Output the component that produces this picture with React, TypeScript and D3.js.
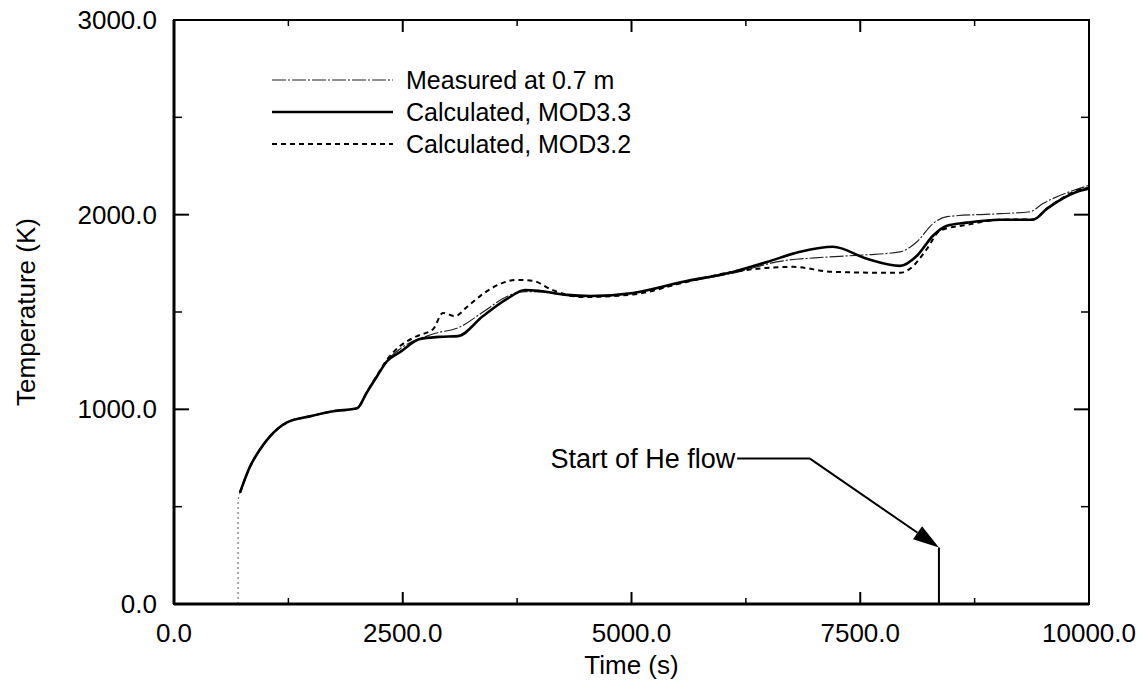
import * as d3 from 'd3';

const W = 1145;
const H = 683;

// measured at 0.7 m
const measuredTime = [700, 700, 721, 831, 940, 1049, 1235, 1486, 1738, 2000, 2109, 2219, 2328, 2470, 2831, 3125, 3377, 3639, 3836, 4000, 4295, 4546, 5016, 5563, 6109, 6656, 7000, 7388, 7574, 7934, 8120, 8295, 8448, 9027, 9355, 9497, 9825, 10000];
const measuredTemp = [0, 536, 572, 706, 794, 861, 933, 964, 990, 1005, 1088, 1172, 1250, 1310, 1387, 1423, 1500, 1580, 1605, 1603, 1585, 1580, 1596, 1652, 1700, 1763, 1778, 1789, 1794, 1809, 1861, 1954, 1990, 2005, 2015, 2057, 2124, 2150];

// calculated, MOD3.3
const mod33Time = [721, 831, 940, 1049, 1235, 1486, 1738, 2000, 2109, 2219, 2328, 2470, 2689, 2900, 3104, 3377, 3639, 3836, 4000, 4295, 4546, 5016, 5563, 6109, 6481, 6842, 7202, 7574, 7934, 8120, 8295, 8448, 8667, 9027, 9388, 9541, 9869, 10000];
const mod33Temp = [572, 706, 794, 861, 933, 964, 990, 1005, 1088, 1170, 1247, 1294, 1361, 1372, 1376, 1479, 1567, 1613, 1608, 1588, 1582, 1598, 1655, 1706, 1757, 1809, 1835, 1773, 1737, 1789, 1892, 1943, 1959, 1974, 1974, 2031, 2118, 2135];

// calculated, MOD3.2
const mod32Time = [721, 831, 940, 1049, 1235, 1486, 1738, 2000, 2109, 2219, 2328, 2470, 2650, 2831, 2940, 3071, 3202, 3377, 3563, 3749, 3923, 4109, 4295, 4470, 5016, 5563, 6109, 6765, 7202, 7934, 8044, 8230, 8372, 8667, 9027, 9388, 9541, 9869, 10000];
const mod32Temp = [572, 706, 794, 861, 933, 964, 990, 1005, 1090, 1175, 1255, 1325, 1375, 1412, 1495, 1479, 1526, 1593, 1644, 1665, 1660, 1619, 1588, 1577, 1590, 1650, 1706, 1732, 1706, 1701, 1722, 1825, 1918, 1948, 1974, 1976, 2031, 2124, 2139];

const xTicks = [0, 2500, 5000, 7500, 10000];
const yTicks = [0, 1000, 2000, 3000];
const xMinor = [1250, 3750, 6250, 8750];
const yMinor = [500, 1500, 2500];

const legendLabels = ['Measured at 0.7 m', 'Calculated, MOD3.3', 'Calculated, MOD3.2'];

// "Start of He flow" annotation, in data units
const heFlowTime = 8360;
const heFlowTip = 290;
const heFlowLabelY = 747;
const heFlowElbow = [6155, 6950];

const font = '"Liberation Sans", Arial, Helvetica, sans-serif';
const fs = 26;

export default function App() {
    const x = d3.scaleLinear().domain([0, 10000]).range([174, 1089]);
    const y = d3.scaleLinear().domain([0, 3000]).range([604, 20]);

    const line = d3
        .line<[number, number]>()
        .x((d) => x(d[0]))
        .y((d) => y(d[1]))
        .curve(d3.curveMonotoneX);

    const lineRaw = d3
        .line<[number, number]>()
        .x((d) => x(d[0]))
        .y((d) => y(d[1]))
        .curve(d3.curveLinear);

    const measured = measuredTime.map((t, i) => [t, measuredTemp[i]] as [number, number]);
    const mod33 = mod33Time.map((t, i) => [t, mod33Temp[i]] as [number, number]);
    const mod32 = mod32Time.map((t, i) => [t, mod32Temp[i]] as [number, number]);

    const styles = [
        { stroke: '#222', width: 1.2, dash: '14,2,2,2' },
        { stroke: '#000', width: 2.6, dash: null },
        { stroke: '#000', width: 2, dash: '5,4' },
    ];

    const [x0, x1] = x.range();
    const [y0, y1] = y.range();

    // arrow geometry
    const ex = x(heFlowElbow[1]);
    const ey = y(heFlowLabelY);
    const tx = x(heFlowTime);
    const ty = y(heFlowTip);
    const ang = Math.atan2(ty - ey, tx - ex);
    const aLen = 26;
    const aW = 8;
    const bx = tx - aLen * Math.cos(ang);
    const by = ty - aLen * Math.sin(ang);
    const arrow = [
        [tx, ty],
        [bx + aW * Math.sin(ang), by - aW * Math.cos(ang)],
        [bx - aW * Math.sin(ang), by + aW * Math.cos(ang)],
    ];

    return (
        <svg width={W} height={H} style={{ position: 'absolute', left: 0, top: 0, background: '#fff' }}>
            <rect width={W} height={H} fill="#fff" />

            {/* series */}
            <path d={lineRaw(measured.slice(0, 3)) ?? ''} fill="none" stroke="#555" strokeWidth={1} strokeDasharray="2,3" />
            <path d={line(measured.slice(2)) ?? ''} fill="none" stroke={styles[0].stroke} strokeWidth={styles[0].width} strokeDasharray={styles[0].dash ?? undefined} />
            <path d={line(mod33) ?? ''} fill="none" stroke={styles[1].stroke} strokeWidth={styles[1].width} />
            <path d={line(mod32) ?? ''} fill="none" stroke={styles[2].stroke} strokeWidth={styles[2].width} strokeDasharray={styles[2].dash ?? undefined} />

            {/* frame */}
            <rect x={x0} y={y1} width={x1 - x0} height={y0 - y1} fill="none" stroke="#000" strokeWidth={2} />
            <line x1={x0} x2={x0} y1={y1} y2={y0} stroke="#000" strokeWidth={3} />
            <line x1={x0} x2={x1} y1={y0} y2={y0} stroke="#000" strokeWidth={3} />

            {/* ticks */}
            {xTicks.slice(1, -1).map((t) => (
                <g key={'xt' + t}>
                    <line x1={x(t)} x2={x(t)} y1={y0} y2={y0 - 12} stroke="#000" strokeWidth={2} />
                    <line x1={x(t)} x2={x(t)} y1={y1} y2={y1 + 12} stroke="#000" strokeWidth={2} />
                </g>
            ))}
            {xMinor.map((t) => (
                <g key={'xm' + t}>
                    <line x1={x(t)} x2={x(t)} y1={y0} y2={y0 - 6} stroke="#000" strokeWidth={1.5} />
                    <line x1={x(t)} x2={x(t)} y1={y1} y2={y1 + 6} stroke="#000" strokeWidth={1.5} />
                </g>
            ))}
            {yTicks.slice(1, -1).map((t) => (
                <g key={'yt' + t}>
                    <line x1={x0} x2={x0 + 15} y1={y(t)} y2={y(t)} stroke="#000" strokeWidth={2} />
                    <line x1={x1} x2={x1 - 15} y1={y(t)} y2={y(t)} stroke="#000" strokeWidth={2} />
                </g>
            ))}
            {yMinor.map((t) => (
                <g key={'ym' + t}>
                    <line x1={x0} x2={x0 + 8} y1={y(t)} y2={y(t)} stroke="#000" strokeWidth={1.5} />
                    <line x1={x1} x2={x1 - 8} y1={y(t)} y2={y(t)} stroke="#000" strokeWidth={1.5} />
                </g>
            ))}

            {/* tick labels */}
            {xTicks.map((t) => (
                <text key={'xl' + t} x={x(t)} y={y0 + 38} textAnchor="middle" fontFamily={font} fontSize={fs} fill="#000">
                    {t.toFixed(1)}
                </text>
            ))}
            {yTicks.map((t) => (
                <text key={'yl' + t} x={x0 - 17} y={y(t) + 9} textAnchor="end" fontFamily={font} fontSize={fs} fill="#000">
                    {t.toFixed(1)}
                </text>
            ))}

            {/* axis titles */}
            <text x={(x0 + x1) / 2} y={674} textAnchor="middle" fontFamily={font} fontSize={fs} fill="#000">
                Time (s)
            </text>
            <text
                transform={`translate(35, ${(y0 + y1) / 2}) rotate(-90)`}
                textAnchor="middle"
                fontFamily={font}
                fontSize={fs}
                fill="#000"
            >
                Temperature (K)
            </text>

            {/* legend */}
            {legendLabels.map((label, i) => (
                <g key={label} transform={`translate(272, ${80 + i * 32})`}>
                    <line x1={0} x2={121} y1={0} y2={0} stroke={styles[i].stroke} strokeWidth={styles[i].width} strokeDasharray={styles[i].dash ?? undefined} />
                    <text x={134} y={9} fontFamily={font} fontSize={25} fill="#000">
                        {label}
                    </text>
                </g>
            ))}

            {/* He flow annotation */}
            <text x={x(heFlowElbow[0]) - 2} y={ey + 9} textAnchor="end" fontFamily={font} fontSize={27} fill="#000">
                Start of He flow
            </text>
            <line x1={x(heFlowElbow[0])} x2={ex} y1={ey} y2={ey} stroke="#000" strokeWidth={2} />
            <line x1={ex} y1={ey} x2={bx} y2={by} stroke="#000" strokeWidth={2} />
            <polygon points={arrow.map((p) => p.join(',')).join(' ')} fill="#000" />
            <line x1={tx} x2={tx} y1={ty} y2={y0} stroke="#000" strokeWidth={2} />
        </svg>
    );
}
